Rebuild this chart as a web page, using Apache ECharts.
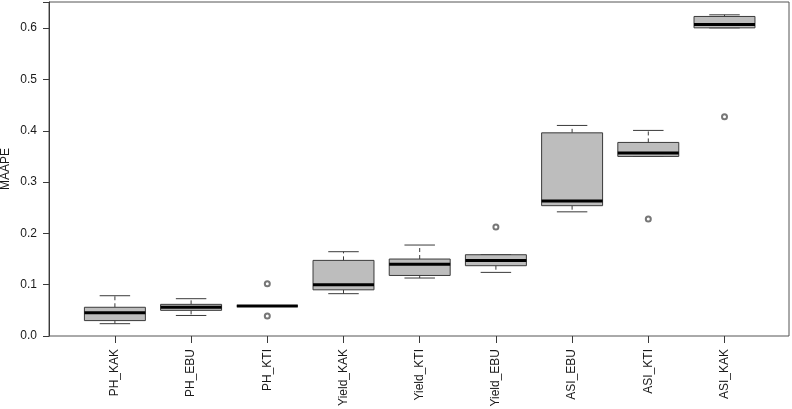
<!DOCTYPE html>
<html>
<head>
<meta charset="utf-8">
<script src="https://cdn.jsdelivr.net/npm/echarts@6/dist/echarts.min.js"></script>
<style>
  html, body { margin: 0; padding: 0; background: #fff; }
  #chart { width: 792px; height: 409px; }
</style>
</head>
<body>
<div id="chart"></div>
<script>
const categories = ['PH_KAK', 'PH_EBU', 'PH_KTI', 'Yield_KAK', 'Yield_KTI', 'Yield_EBU', 'ASI_EBU', 'ASI_KTI', 'ASI_KAK']
const lowWhisker = [0.024, 0.040, 0.0585, 0.0825, 0.113, 0.124, 0.242, 0.350, 0.6006]
const q1 = [0.030, 0.050, 0.0585, 0.090, 0.118, 0.137, 0.254, 0.350, 0.6006]
const median = [0.0455, 0.056, 0.0585, 0.100, 0.140, 0.147, 0.263, 0.3565, 0.607]
const q3 = [0.056, 0.0617, 0.0585, 0.1474, 0.150, 0.1584, 0.396, 0.3773, 0.6228]
const highWhisker = [0.0785, 0.0727, 0.0585, 0.1643, 0.1773, 0.1584, 0.4104, 0.4007, 0.626]
// [category index, value]
const outliers = [[2, 0.102], [2, 0.039], [5, 0.2123], [7, 0.228], [8, 0.4273]]
const yTicks = [0, 0.1, 0.2, 0.3, 0.4, 0.5, 0.6]

const boxData = categories.map((c, i) => [i, lowWhisker[i], q1[i], median[i], q3[i], highWhisker[i]])

const lineColor = '#3a3a3a'
const textColor = '#1a1a1a'
const font = 'Liberation Sans, Arial, sans-serif'

const renderBox = (params, api) => {
  const idx = api.value(0)
  const band = api.size([1, 0])[0]
  const half = band * 0.8 / 2
  const cap = half / 2
  const pLo = api.coord([idx, api.value(1)])
  const pQ1 = api.coord([idx, api.value(2)])
  const pMed = api.coord([idx, api.value(3)])
  const pQ3 = api.coord([idx, api.value(4)])
  const pHi = api.coord([idx, api.value(5)])
  const x = pMed[0]
  const solid = { stroke: lineColor, lineWidth: 1, fill: null }
  const dashed = { stroke: lineColor, lineWidth: 1, lineDash: [4, 3], fill: null }
  const children = []
  if (pHi[1] < pQ3[1]) {
    children.push({ type: 'line', shape: { x1: x, y1: pQ3[1], x2: x, y2: pHi[1] }, style: dashed })
  }
  if (pLo[1] > pQ1[1]) {
    children.push({ type: 'line', shape: { x1: x, y1: pQ1[1], x2: x, y2: pLo[1] }, style: dashed })
  }
  children.push({ type: 'line', shape: { x1: x - cap, y1: pHi[1], x2: x + cap, y2: pHi[1] }, style: solid })
  children.push({ type: 'line', shape: { x1: x - cap, y1: pLo[1], x2: x + cap, y2: pLo[1] }, style: solid })
  children.push({
    type: 'rect',
    shape: { x: x - half, y: pQ3[1], width: half * 2, height: pQ1[1] - pQ3[1] },
    style: { fill: '#bdbdbd', stroke: lineColor, lineWidth: 1 }
  })
  children.push({
    type: 'line',
    shape: { x1: x - half, y1: pMed[1], x2: x + half, y2: pMed[1] },
    style: { stroke: '#000', lineWidth: 3 }
  })
  return { type: 'group', children }
}

const chart = echarts.init(document.getElementById('chart'))

chart.setOption({
  animation: false,
  backgroundColor: '#fff',
  grid: [
    { left: 76.8, right: 29.4, top: 2, bottom: 73, outerBoundsMode: 'none', containLabel: false },
    {
      left: 49, right: 3, top: 2, bottom: 73, outerBoundsMode: 'none', containLabel: false,
      show: true, borderColor: '#555', borderWidth: 1, backgroundColor: 'transparent'
    }
  ],
  xAxis: [
    {
      type: 'category',
      gridIndex: 0,
      data: categories,
      boundaryGap: true,
      axisLine: { show: false },
      axisTick: { show: true, alignWithLabel: true, length: 7, lineStyle: { color: lineColor } },
      axisLabel: { rotate: 90, margin: 13, fontSize: 12, color: textColor, fontFamily: font, interval: 0 },
      splitLine: { show: false }
    },
    { type: 'value', gridIndex: 1, show: false, min: 0, max: 1 }
  ],
  yAxis: [
    {
      type: 'value',
      gridIndex: 0,
      min: 0,
      max: 0.651,
      interval: 0.1,
      offset: 27.8,
      name: 'MAAPE',
      nameLocation: 'middle',
      nameGap: 37,
      nameMoveOverlap: false,
      nameTextStyle: { fontSize: 12, color: textColor, fontFamily: font },
      axisLine: { show: true, lineStyle: { color: lineColor } },
      axisTick: { show: true, length: 6, lineStyle: { color: lineColor } },
      axisLabel: {
        margin: 12,
        fontSize: 12,
        color: textColor,
        fontFamily: font,
        formatter: v => yTicks.some(t => Math.abs(t - v) < 1e-9) ? v.toFixed(1) : ''
      },
      splitLine: { show: false }
    },
    { type: 'value', gridIndex: 1, show: false, min: 0, max: 1 }
  ],
  series: [
    {
      type: 'custom',
      xAxisIndex: 0,
      yAxisIndex: 0,
      renderItem: renderBox,
      encode: { x: 0, y: [1, 2, 3, 4, 5] },
      data: boxData
    },
    {
      type: 'scatter',
      xAxisIndex: 0,
      yAxisIndex: 0,
      symbol: 'emptyCircle',
      symbolSize: 5,
      itemStyle: { color: '#555', borderColor: '#555', borderWidth: 0.8 },
      data: outliers
    }
  ]
})
</script>
</body>
</html>
